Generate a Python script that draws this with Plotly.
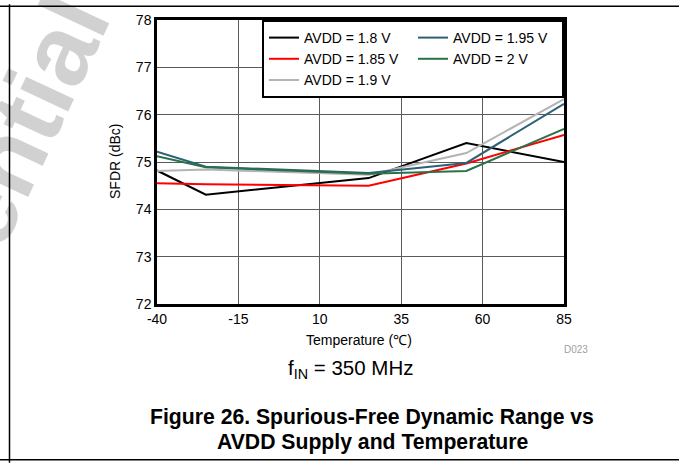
import plotly.graph_objects as go

# Temperature sweep points (deg C)
temps = [-40, -25, 25, 55, 85]

# SFDR (dBc) per AVDD supply level
sfdr_1v80 = [74.82, 74.31, 74.66, 75.40, 75.00]
sfdr_1v85 = [74.55, 74.53, 74.50, 74.97, 75.57]
sfdr_1v90 = [74.81, 74.84, 74.73, 75.19, 76.33]
sfdr_1v95 = [75.22, 74.90, 74.77, 74.98, 76.23]
sfdr_2v00 = [75.12, 74.89, 74.75, 74.81, 75.70]

series_names = ["AVDD = 1.8 V", "AVDD = 1.85 V", "AVDD = 1.9 V",
                "AVDD = 1.95 V", "AVDD = 2 V"]
series_values = [sfdr_1v80, sfdr_1v85, sfdr_1v90, sfdr_1v95, sfdr_2v00]
series_colors = ["#000000", "#ff0000", "#b4b4b4", "#2d6077", "#2a7148"]
# legend is filled row by row, so ranks give a column-wise reading order
legend_ranks = [1, 3, 5, 2, 4]

x_ticks = [-40, -15, 10, 35, 60, 85]
y_ticks = [72, 73, 74, 75, 76, 77, 78]

W, H = 679, 465
L, R, T, B = 157, 115, 16, 161
FONT = "Liberation Sans, Arial, sans-serif"


def px(x):
    return (x - L) / (W - L - R)


def py(y):
    return (H - B - y) / (H - T - B)


fig = go.Figure()
for name, vals, col, rank in zip(series_names, series_values,
                                 series_colors, legend_ranks):
    fig.add_trace(go.Scatter(
        x=temps, y=vals, name=name, mode="lines",
        line=dict(color=col, width=2), legendrank=rank,
    ))

axis_common = dict(
    showline=True, linecolor="black", linewidth=2.5, mirror=True,
    showgrid=True, gridcolor="#5a5a5a", gridwidth=1,
    zeroline=False, ticks="", tickfont=dict(size=14, color="black", family=FONT),
)

fig.update_xaxes(range=[-40, 85], tickvals=x_ticks,
                 ticktext=[str(v) for v in x_ticks], **axis_common)
fig.update_yaxes(range=[72, 78], tickvals=y_ticks,
                 ticktext=[str(v) for v in y_ticks], **axis_common)

annotations = [
    # watermark
    dict(text="<b>Confidential</b>", x=px(-42), y=py(263), xref="paper", yref="paper",
         showarrow=False, textangle=-65, xanchor="center", yanchor="middle",
         font=dict(size=100, color="rgba(0,0,0,0.18)", family=FONT)),
    dict(text="SFDR (dBc)", x=px(115), y=py(160), xref="paper", yref="paper",
         showarrow=False, textangle=-90, xanchor="center", yanchor="middle",
         font=dict(size=14, color="black", family=FONT)),
    dict(text="Temperature (\u2103)", x=px(359), y=py(340), xref="paper", yref="paper",
         showarrow=False, xanchor="center", yanchor="middle",
         font=dict(size=14, color="black", family=FONT)),
    dict(text="D023", x=px(590), y=py(350), xref="paper", yref="paper",
         showarrow=False, xanchor="right", yanchor="middle",
         font=dict(size=10, color="#a0a0a0", family=FONT)),
    dict(text="f<sub>IN</sub> = 350 MHz", x=px(350), y=py(370), xref="paper", yref="paper",
         showarrow=False, xanchor="center", yanchor="middle",
         font=dict(size=20.5, color="black", family=FONT)),
    dict(text="<b>Figure 26. Spurious-Free Dynamic Range vs</b>", x=px(372), y=py(419),
         xref="paper", yref="paper", showarrow=False, xanchor="center", yanchor="middle",
         font=dict(size=21.2, color="black", family=FONT)),
    dict(text="<b>AVDD Supply and Temperature</b>", x=px(372), y=py(444),
         xref="paper", yref="paper", showarrow=False, xanchor="center", yanchor="middle",
         font=dict(size=21.2, color="black", family=FONT)),
]

# page frame rules
shapes = [
    dict(type="line", xref="paper", yref="paper", x0=px(0), x1=px(W), y0=py(2), y1=py(2),
         line=dict(color="black", width=1.5)),
    dict(type="line", xref="paper", yref="paper", x0=px(0), x1=px(W), y0=py(462), y1=py(462),
         line=dict(color="black", width=1.5)),
    dict(type="line", xref="paper", yref="paper", x0=px(9.5), x1=px(9.5), y0=py(0), y1=py(H),
         line=dict(color="black", width=1.5)),
]

fig.update_layout(
    width=W, height=H, autosize=False,
    margin=dict(l=L, r=R, t=T, b=B),
    paper_bgcolor="white", plot_bgcolor="white",
    font=dict(family=FONT, color="black"),
    annotations=annotations, shapes=shapes,
    legend=dict(
        orientation="h", x=1, xanchor="right", y=1, yanchor="top",
        bgcolor="white", bordercolor="black", borderwidth=2,
        font=dict(size=14, color="black", family=FONT),
        entrywidth=104, entrywidthmode="pixels", traceorder="normal",
    ),
    showlegend=True,
)

fig.write_html("out.html")
